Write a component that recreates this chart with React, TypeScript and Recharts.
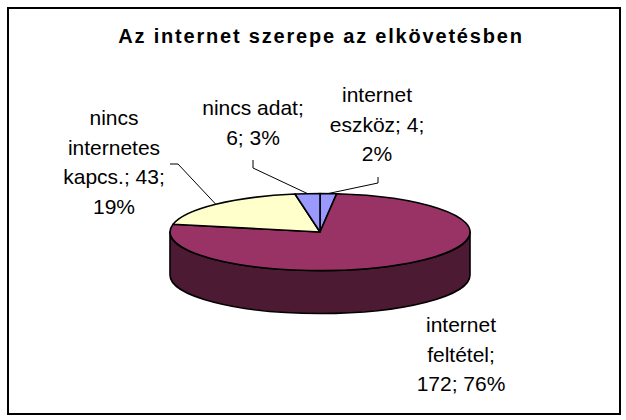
import { Cell, Pie, PieChart } from 'recharts'

const CATEGORIES = ['internet eszköz', 'internet feltétel', 'nincs internetes kapcs.', 'nincs adat']
const VALUES = [4, 172, 43, 6]
const TITLE = 'Az internet szerepe az elkövetésben'

// Excel 2003 palette, top faces + darker side wall
const COLORS = ['#9999FF', '#993366', '#FFFFCC', '#9999FF']
const SIDE_COLORS = ['#4D4D80', '#4D1A33', '#808066', '#4D4D80']
const FONT = "'Liberation Sans', Arial, sans-serif"

// 3D look: vertical squash of the top face and wall height
const TILT = 0.257
const DEPTH = 43
const LINE_H = 29.5

// where Excel's data labels sit, relative to pie centre (first baseline),
// plus the leader line elbow (null = no leader)
const LABEL_POS = [
  { x: 57, y: -130, lead: [[58, -55], [58, -49]] },
  { x: 141, y: 100, lead: null },
  { x: -206, y: -107, lead: [[-150, -68], [-142, -68]] },
  { x: -67, y: -117, lead: [[-67, -72], [-67, -64]] },
]

const data = CATEGORIES.map((name, i) => ({ name, value: VALUES[i] }))

function ept(cx: number, cy: number, rx: number, ry: number, deg: number) {
  const r = (deg * Math.PI) / 180
  return [cx + rx * Math.cos(r), cy - ry * Math.sin(r)]
}

function wrap(text: string, max: number) {
  const lines: string[] = []
  let cur = ''
  for (const w of text.split(' ')) {
    if (cur && (cur + ' ' + w).length > max) {
      lines.push(cur)
      cur = w
    } else cur = cur ? cur + ' ' + w : w
  }
  if (cur) lines.push(cur)
  return lines
}

function Slice(props: any) {
  const { cx, cy, outerRadius: rx, startAngle, endAngle, index } = props
  const ry = rx * TILT
  const hi = Math.max(startAngle, endAngle)
  const lo = Math.min(startAngle, endAngle)
  const [x0, y0] = ept(cx, cy, rx, ry, hi)
  const [x1, y1] = ept(cx, cy, rx, ry, lo)
  const large = hi - lo > 180 ? 1 : 0
  const top = `M${cx},${cy} L${x0},${y0} A${rx},${ry} 0 ${large} 1 ${x1},${y1} Z`

  // front wall: portions of the arc on the lower half of the ellipse
  const walls: string[] = []
  for (let k = -1; k <= 1; k++) {
    const a = Math.min(hi, 360 * k)
    const b = Math.max(lo, -180 + 360 * k)
    if (a - b > 0.01) {
      const [ax, ay] = ept(cx, cy, rx, ry, a)
      const [bx, by] = ept(cx, cy, rx, ry, b)
      const lg = a - b > 180 ? 1 : 0
      walls.push(
        `M${ax},${ay} A${rx},${ry} 0 ${lg} 1 ${bx},${by} L${bx},${by + DEPTH} A${rx},${ry} 0 ${lg} 0 ${ax},${ay + DEPTH} Z`,
      )
    }
  }

  return (
    <g>
      {walls.map((d, i) => (
        <path key={i} d={d} fill={SIDE_COLORS[index]} stroke="#000" strokeWidth={1.6} strokeLinejoin="round" />
      ))}
      <path d={top} fill={COLORS[index]} stroke="#000" strokeWidth={1.6} strokeLinejoin="round" />
    </g>
  )
}

function Label(props: any) {
  const { cx, cy, outerRadius, midAngle, index, name, value, percent } = props
  const pos = LABEL_POS[index]
  const lines = wrap(`${name}; ${value}; ${Math.round(percent * 100)}%`, 11)
  const [px, py] = ept(cx, cy, outerRadius, outerRadius * TILT, midAngle)
  return (
    <g>
      {pos.lead && (
        <polyline
          points={`${cx + pos.lead[0][0]},${cy + pos.lead[0][1]} ${cx + pos.lead[1][0]},${cy + pos.lead[1][1]} ${px},${py}`}
          fill="none"
          stroke="#000"
          strokeWidth={1}
        />
      )}
      <text x={cx + pos.x} y={cy + pos.y} textAnchor="middle" fontFamily={FONT} fontSize={21} fill="#000">
        {lines.map((l, i) => (
          <tspan key={i} x={cx + pos.x} dy={i === 0 ? 0 : LINE_H}>
            {l}
          </tspan>
        ))}
      </text>
    </g>
  )
}

export default function App() {
  return (
    <div style={{ position: 'absolute', left: 0, top: 0, width: 626, height: 420, background: '#fff' }}>
      <div
        style={{
          position: 'absolute',
          left: 7,
          top: 7,
          width: 610,
          height: 404,
          border: '2px solid #000',
        }}
      />
      <div
        style={{
          position: 'absolute',
          left: 0,
          top: 24,
          width: 642,
          textAlign: 'center',
          fontFamily: FONT,
          fontWeight: 'bold',
          fontSize: 20,
          letterSpacing: 1.8,
          lineHeight: '24px',
        }}
      >
        {TITLE}
      </div>
      <div style={{ position: 'absolute', left: 0, top: 0 }}>
        <PieChart width={626} height={420} margin={{ top: 0, right: 0, bottom: 0, left: 0 }}>
          <Pie
            data={data}
            dataKey="value"
            nameKey="name"
            cx={320}
            cy={232}
            outerRadius={150}
            startAngle={90}
            endAngle={-270}
            stroke="#000"
            shape={Slice}
            label={Label}
            labelLine={false}
            isAnimationActive={false}
          >
            {data.map((d, i) => (
              <Cell key={d.name} fill={COLORS[i]} />
            ))}
          </Pie>
        </PieChart>
      </div>
    </div>
  )
}
